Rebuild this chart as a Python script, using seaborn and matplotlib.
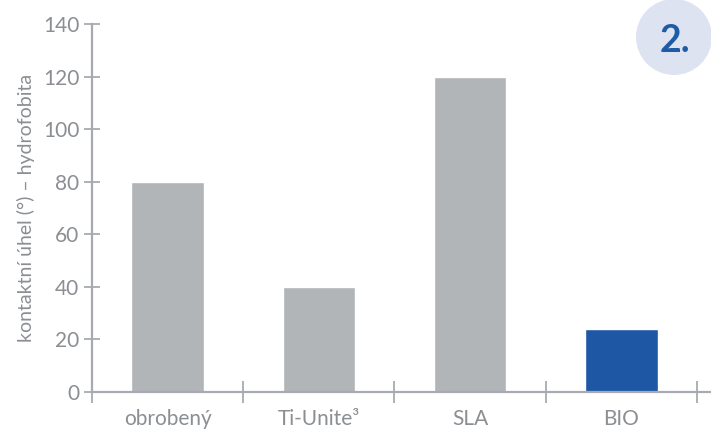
import matplotlib
matplotlib.use('Agg')
import matplotlib.pyplot as plt
import seaborn as sns
import pandas as pd
from matplotlib.patches import Circle

categories = ['obrobený', 'Ti-Unite³', 'SLA', 'BIO']
values = [80, 40, 120, 24]
bar_colors = ['#b1b5b8', '#b1b5b8', '#b1b5b8', '#1e58a5']
y_label = 'kontaktní úhel (°) – hydrofobita'
badge_text = '2.'

AXIS_GREY = '#a7aab0'
TEXT_GREY = '#8b8e92'

sns.set_style('white')
plt.rcParams['font.family'] = ['Lato', 'DejaVu Sans']

fig = plt.figure(figsize=(7.11, 4.33), dpi=100)
ax = fig.add_axes([92 / 711, 1 - 392 / 433, 619 / 711, 368 / 433])

data = pd.DataFrame({'cat': categories, 'val': values})
sns.barplot(data=data, x='cat', y='val', hue='cat', palette=bar_colors,
            width=0.48, legend=False, ax=ax, saturation=1)

ax.set_ylim(0, 140)
ax.set_xlim(-0.5, 3.5 + 14 / 151)
ax.set_yticks(range(0, 141, 20))
ax.set_xticks([i - 0.5 for i in range(len(categories) + 1)], minor=True)

for s in ['top', 'right']:
    ax.spines[s].set_visible(False)
for s in ['left', 'bottom']:
    ax.spines[s].set_color(AXIS_GREY)
    ax.spines[s].set_linewidth(1.6)

ax.tick_params(axis='y', which='major', left=True, direction='inout', length=12, width=1.3,
               color=AXIS_GREY, labelcolor=TEXT_GREY, labelsize=15, pad=3)
ax.tick_params(axis='x', which='major', bottom=False, length=0, labelcolor=TEXT_GREY,
               labelsize=15, pad=12)
ax.tick_params(axis='x', which='minor', bottom=True, direction='inout', length=16, width=1.3,
               color=AXIS_GREY)

ax.set_xlabel('')
ax.set_ylabel(y_label, color=TEXT_GREY, fontsize=14, labelpad=6)

# badge in the top right corner
fig.patches.append(Circle((6.74, 4.33 - 0.37), 0.38, transform=fig.dpi_scale_trans,
                          facecolor='#dde3f1', edgecolor='none'))
fig.text(675 / 711, 1 - 41 / 433, badge_text, color='#1f5ca8', fontsize=27,
         ha='center', va='center', fontweight='bold')

fig.savefig('out.png', dpi=100)
plt.close(fig)
